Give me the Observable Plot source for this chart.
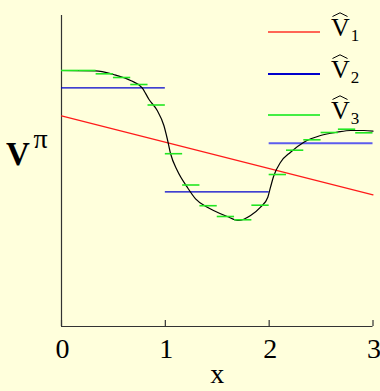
<!DOCTYPE html>
<html>
<head>
<meta charset="utf-8">
<script src="https://cdn.jsdelivr.net/npm/d3@7"></script>
<script src="https://cdn.jsdelivr.net/npm/@observablehq/plot@0.6"></script>
<style>
  html, body { margin: 0; padding: 0; background: #ffffdc; }
  #wrap { position: relative; width: 380px; height: 391px; overflow: hidden; font-family: "Liberation Serif", "Times New Roman", serif; }
  #wrap > svg { position: absolute; left: 0; top: 0; }
  .row { position: absolute; left: 268px; width: 112px; height: 0; }
  .swatch { position: absolute; left: 0; top: -1px; width: 52px; height: 2px; }
  .lab { position: absolute; left: 63px; top: -17.1px; font-size: 26px; line-height: 26px; color: #000; white-space: nowrap; }
  .hat { position: relative; display: inline-block; }
  .hat svg { position: absolute; left: 50%; margin-left: -8px; top: -3px; overflow: visible; }
  .sub { font-size: 17px; position: relative; top: 5px; margin-left: 1px; }
</style>
</head>
<body>
<div id="wrap"></div>
<script>
// Axis ticks
const xTicks = [0, 1, 2, 3];

// True value function V^π sampled along x
const piX = [0, 0.328, 0.501, 0.665, 0.777, 0.843, 0.922, 0.986, 1.018, 1.050, 1.115, 1.211, 1.291, 1.404,
             1.464, 1.596, 1.708, 1.821, 1.917, 1.987, 2.013, 2.042, 2.110, 2.206, 2.334, 2.495, 2.656,
             2.784, 2.912, 3.0];
const piV = [8.232, 8.222, 8.103, 7.910, 7.675, 7.299, 6.945, 6.463, 6.045, 5.563, 5.016, 4.479, 4.106, 3.836,
             3.730, 3.537, 3.408, 3.569, 3.836, 4.158, 4.479, 4.823, 5.283, 5.605, 5.926, 6.141, 6.248,
             6.302, 6.302, 6.280];

// V̂1: linear approximation
const v1X = [0, 3];
const v1V = [6.77, 4.23];

// V̂2: one constant per unit interval
const v2Edges = [0, 1, 2, 3];
const v2V = [7.675, 4.33, 5.89];

// V̂3: one constant per sixth of a unit
const v3Edges = [0, 1/6, 2/6, 3/6, 4/6, 5/6, 6/6, 7/6, 8/6, 9/6, 10/6, 11/6, 12/6, 13/6, 14/6, 15/6, 16/6, 17/6, 18/6];
const v3V = [8.232, 8.232, 8.125, 8.006, 7.781, 7.122, 5.556, 4.550, 3.884, 3.537, 3.431, 3.900, 4.887,
             5.669, 6.003, 6.238, 6.344, 6.228];

// Legend entries
const legendSubs = ["1", "2", "3"];

const serif = "Liberation Serif, Times New Roman, serif";
const colRed = "#ff1a1a", colBlue = "#0000cc", colGreen = "#22e622";

const piData = piX.map((x, i) => ({x, v: piV[i]}));
const v1Data = v1X.map((x, i) => ({x, v: v1V[i]}));
const v2Data = v2V.map((v, i) => ({x1: v2Edges[i], x2: v2Edges[i + 1], v, i}));
const v3Data = v3V.map((v, i) => ({x1: v3Edges[i], x2: v3Edges[i + 1], v}));

const chart = Plot.plot({
  width: 380,
  height: 391,
  marginTop: 15,
  marginRight: 7.5,
  marginBottom: 65,
  marginLeft: 61,
  x: {domain: [0, 3]},
  y: {domain: [0, 10], axis: null},
  style: {background: "none", color: "#000", overflow: "visible"},
  marks: [
    // axis lines
    Plot.ruleX([0], {stroke: "#333", strokeWidth: 1.2}),
    Plot.ruleY([0], {stroke: "#333", strokeWidth: 1.2}),
    // inward tick marks
    Plot.ruleX(xTicks, {x: d => d, y1: 0, y2: 0, insetBottom: 6, stroke: "#333", strokeWidth: 1.2}),
    Plot.axisX(xTicks, {tickSize: 0, tickPadding: 12, dx: 1, fontSize: 28, fontFamily: serif, label: null}),
    Plot.text(["x"], {frameAnchor: "bottom", textAnchor: "middle", dy: 56, fontSize: 28, fontFamily: serif}),
    Plot.text(["V"], {frameAnchor: "left", textAnchor: "middle", dx: -43.5, dy: -16.5, fontSize: 33, fontWeight: "bold", fontFamily: serif}),
    Plot.text(["π"], {frameAnchor: "left", textAnchor: "middle", dx: -21, dy: -32, fontSize: 28, fontFamily: serif}),
    // approximations and the true value function
    Plot.line(v1Data, {x: "x", y: "v", stroke: colRed, strokeWidth: 1.2}),
    Plot.ruleY(v2Data, {x1: "x1", x2: "x2", y: "v",
      stroke: d => d.i === 2 ? "#5c5cee" : colBlue, strokeWidth: d => d.i === 2 ? 2 : 1.2}),
    Plot.line(piData, {x: "x", y: "v", curve: "monotone-x", stroke: "#000", strokeWidth: 1.2}),
    Plot.ruleY(v3Data, {x1: "x1", x2: "x2", y: "v", stroke: colGreen, strokeWidth: 1.6})
  ]
});

const wrap = document.getElementById("wrap");
wrap.appendChild(chart);

// Legend: swatch line, then V with a hat and a subscript
const swatchColors = ["#ff6655", colBlue, "#44ee44"];
const hatSvg = `<svg width="16" height="5"><polyline points="0.5,4.5 8,0.8 15.5,4.5" fill="none" stroke="#000" stroke-width="1"/></svg>`;
legendSubs.forEach((s, i) => {
  const row = document.createElement("div");
  row.className = "row";
  row.style.top = (32 + 41.6 * i) + "px";
  row.innerHTML = `<span class="swatch" style="background:${swatchColors[i]}"></span>` +
    `<span class="lab"><span class="hat">V${hatSvg}</span><span class="sub">${s}</span></span>`;
  wrap.appendChild(row);
});
</script>
</body>
</html>
